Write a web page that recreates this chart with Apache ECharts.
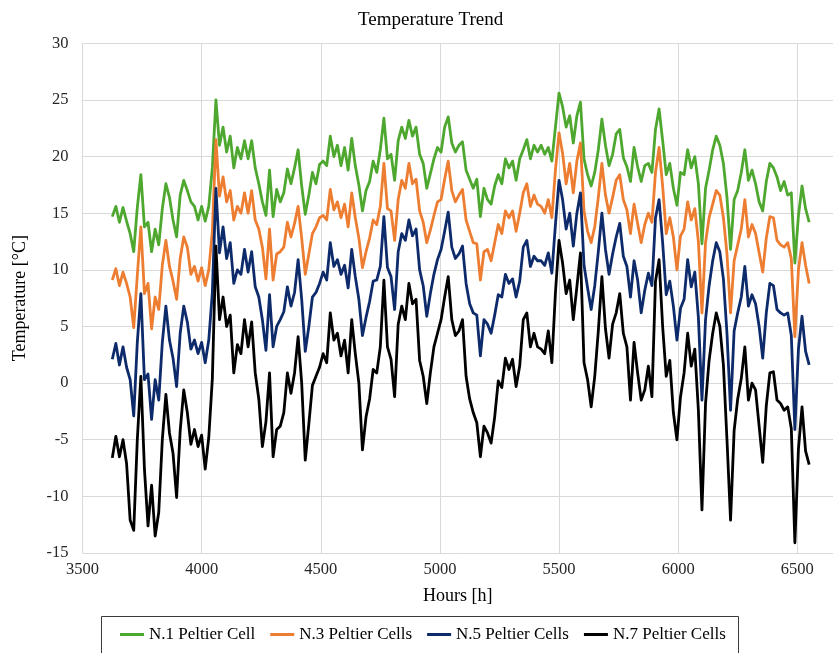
<!DOCTYPE html>
<html><head><meta charset="utf-8">
<script src="https://cdn.jsdelivr.net/npm/echarts@6/dist/echarts.min.js"></script>
<style>html,body{margin:0;padding:0;background:#fff}#c{width:833px;height:653px}</style>
</head><body><div id="c"></div>
<script>
const HOURS = [
3625,3640,3655,3670,3685,3700,3715,3730,3745,3760,
3775,3790,3805,3820,3835,3850,3865,3880,3895,3910,
3925,3940,3955,3970,3985,4000,4015,4030,4045,4060,
4075,4090,4105,4120,4135,4150,4165,4180,4195,4210,
4225,4240,4255,4270,4285,4300,4315,4330,4345,4360,
4375,4390,4405,4420,4435,4450,4465,4480,4495,4510,
4525,4540,4555,4570,4585,4600,4615,4630,4645,4660,
4675,4690,4705,4720,4735,4750,4765,4780,4795,4810,
4825,4840,4855,4870,4885,4900,4915,4930,4945,4960,
4975,4990,5005,5020,5035,5050,5065,5080,5095,5110,
5125,5140,5155,5170,5185,5200,5215,5230,5245,5260,
5275,5290,5305,5320,5335,5350,5365,5380,5395,5410,
5425,5440,5455,5470,5485,5500,5515,5530,5545,5560,
5575,5590,5605,5620,5635,5650,5665,5680,5695,5710,
5725,5740,5755,5770,5785,5800,5815,5830,5845,5860,
5875,5890,5905,5920,5935,5950,5965,5980,5995,6010,
6025,6040,6055,6070,6085,6100,6115,6130,6145,6160,
6175,6190,6205,6220,6235,6250,6265,6280,6295,6310,
6325,6340,6355,6370,6385,6400,6415,6430,6445,6460,
6475,6490,6505,6520,6535,6550];

const N1_CELL = [
14.7,15.6,14.2,15.5,14.3,13.2,11.6,15.5,18.4,13.8,
14.2,11.6,13.6,12.2,15.4,17.6,16.4,14.4,12.9,16.6,
17.9,17.0,16.0,15.6,14.4,15.6,14.3,15.6,19.0,25.0,
21.0,22.6,20.4,21.8,19.0,20.8,19.8,21.4,19.8,21.4,
19.0,17.6,16.0,14.8,18.8,14.7,17.1,16.0,16.8,18.9,
17.6,19.0,20.6,17.4,14.9,16.6,18.6,17.6,19.3,19.6,
19.2,21.8,20.0,21.0,19.2,20.8,18.8,21.6,19.2,17.5,
15.2,17.0,17.8,19.6,18.6,20.6,23.4,19.8,20.2,17.9,
21.4,22.6,21.6,23.2,21.8,22.6,20.2,19.4,17.2,18.5,
19.8,20.8,20.4,22.6,23.5,21.2,20.4,21.0,21.3,18.8,
18.0,17.2,18.0,14.7,17.2,16.2,15.8,17.4,18.4,17.6,
19.8,19.0,19.6,17.9,19.8,20.6,21.5,19.8,21.0,20.4,
21.0,20.2,20.8,19.6,22.6,25.6,24.4,22.6,23.6,21.2,
23.6,24.8,19.8,18.4,17.4,18.6,20.6,23.3,21.0,19.2,
20.2,22.0,22.4,19.9,19.1,17.8,20.8,19.1,17.8,19.2,
19.4,18.6,22.4,24.2,21.4,18.4,19.4,17.2,15.7,18.6,
18.4,20.6,19.0,20.0,17.6,12.3,17.2,18.8,20.6,21.8,
21.0,19.4,16.4,11.8,16.2,17.0,18.6,20.6,17.9,18.8,
17.6,16.0,15.2,17.8,19.4,19.0,18.2,17.0,17.8,16.6,
16.8,10.6,14.8,17.4,15.4,14.2];

const N3_CELLS = [
9.1,10.1,8.6,9.8,8.8,7.6,4.9,9.5,13.8,7.9,
8.8,4.8,7.6,6.5,10.4,12.6,10.3,9.0,7.4,11.0,
12.9,12.0,9.6,10.3,9.0,10.2,8.6,10.0,13.4,21.5,
16.5,18.2,16.0,17.0,14.4,15.6,15.0,16.8,15.0,17.0,
14.4,13.6,12.0,9.2,13.6,9.1,11.4,11.6,12.0,14.2,
12.9,14.1,15.6,12.8,9.6,11.4,13.2,13.8,14.6,14.8,
14.4,17.1,15.3,16.0,14.6,15.8,13.8,16.8,14.6,12.8,
10.2,11.6,12.8,14.4,14.0,15.6,19.4,15.4,15.2,12.6,
16.2,17.9,17.2,19.4,17.6,18.0,15.2,14.2,12.4,13.5,
14.8,16.0,16.2,18.0,19.6,17.0,16.0,16.6,17.1,14.4,
13.4,12.4,12.3,9.1,11.6,11.8,10.8,12.4,14.0,13.2,
15.2,14.6,15.2,13.4,15.0,16.8,17.6,15.6,16.6,15.8,
15.6,15.0,16.2,14.6,18.8,22.1,20.3,17.6,19.4,16.8,
19.6,21.2,15.2,13.4,12.4,13.8,16.4,19.4,16.6,15.0,
16.4,17.9,18.4,16.2,15.3,13.2,15.8,14.1,12.4,14.0,
15.0,14.2,18.6,20.8,17.4,13.2,14.6,12.9,10.0,13.0,
13.6,16.0,14.4,15.4,12.5,6.2,12.4,14.6,15.8,17.0,
16.6,14.6,11.4,6.2,10.8,12.2,13.6,16.2,12.9,14.0,
13.2,11.5,9.8,12.8,14.7,14.6,12.6,12.2,12.0,12.4,
11.0,4.1,10.0,12.4,10.4,8.8];

const N5_CELLS = [
2.1,3.5,1.6,3.2,1.4,0.3,-2.9,3.6,7.9,0.3,
0.8,-3.2,0.3,-1.5,3.6,6.8,3.8,2.2,-0.3,4.4,
6.8,5.4,3.0,3.8,2.6,3.6,1.8,3.8,8.0,17.2,
11.5,13.8,11.0,12.4,8.8,10.0,9.6,11.8,9.8,11.6,
8.5,7.6,5.6,2.9,7.8,3.2,5.0,5.6,6.3,8.5,
6.8,8.0,10.9,7.4,2.8,5.0,7.6,8.0,8.8,9.8,
9.1,12.4,10.3,10.9,9.6,10.4,8.4,11.8,9.4,7.4,
4.2,5.8,7.2,9.0,9.1,10.3,14.7,10.2,9.4,6.5,
11.6,13.2,12.6,14.4,13.0,13.6,10.0,8.6,5.9,7.9,
9.6,10.9,11.8,13.4,15.1,12.0,11.0,11.4,12.1,8.8,
7.0,6.2,6.0,2.4,5.6,5.2,4.4,6.0,7.8,7.6,
9.6,8.8,9.2,7.6,9.0,12.0,12.6,10.3,11.2,10.8,
10.8,10.4,11.5,9.7,14.0,17.9,16.2,13.6,15.0,12.1,
15.0,16.8,10.4,8.4,6.5,8.6,11.6,15.0,11.8,9.6,
11.4,12.9,14.1,11.2,10.3,7.6,10.8,9.1,6.2,8.2,
9.7,8.6,14.6,16.2,12.4,7.8,9.0,6.8,3.8,6.6,
7.4,10.9,8.5,9.8,5.8,-1.5,5.6,8.6,10.8,12.4,
11.6,9.2,4.4,-2.4,4.6,6.2,7.6,10.3,6.8,7.8,
7.0,5.0,2.2,6.2,8.8,8.6,6.5,6.2,6.0,6.2,
4.2,-4.1,3.0,5.9,2.8,1.6];

const N7_CELLS = [
-6.6,-4.7,-6.5,-5.0,-7.1,-12.1,-13.0,-5.0,0.6,-7.6,
-12.6,-9.0,-13.5,-11.4,-5.0,-1.0,-4.4,-6.2,-10.1,-4.2,
-0.6,-2.6,-5.4,-4.1,-5.6,-4.6,-7.6,-4.8,0.4,12.1,
5.6,7.6,5.0,6.0,0.9,3.4,2.6,5.6,3.2,5.4,
0.9,-1.4,-5.6,-3.4,0.9,-6.5,-4.1,-3.8,-2.6,0.9,
-0.9,0.9,4.1,0.0,-6.8,-3.6,-0.2,0.6,1.4,2.6,
1.8,6.2,3.8,4.4,2.4,3.8,0.9,5.6,2.6,0.0,
-5.9,-3.0,-1.4,1.2,0.9,3.2,9.1,3.2,2.1,-1.2,
5.2,6.8,5.6,8.8,7.0,7.4,2.0,0.6,-1.8,0.9,
3.2,4.4,5.6,7.6,9.4,5.6,4.2,4.6,5.6,0.6,
-1.4,-2.6,-3.5,-6.5,-3.8,-4.4,-5.3,-3.0,0.2,-0.4,
2.2,1.2,2.1,-0.3,1.5,5.6,6.2,3.2,4.4,3.2,
3.0,2.6,4.6,1.8,8.0,12.6,10.6,7.9,9.1,5.6,
8.5,11.5,1.8,0.3,-2.1,0.6,4.6,9.4,4.8,2.2,
5.2,6.2,7.9,4.4,3.2,-1.5,3.6,0.9,-1.5,-0.6,
1.5,-1.2,9.0,10.9,5.0,0.6,2.0,-2.6,-5.0,-1.2,
0.9,4.4,1.5,3.0,-2.4,-11.2,-1.8,2.0,4.4,6.2,
5.0,1.6,-5.0,-12.1,-4.2,-1.4,0.4,3.2,-1.5,0.0,
-0.6,-3.8,-7.0,-2.0,0.9,1.0,-1.5,-1.8,-2.4,-2.1,
-4.0,-14.1,-5.8,-2.1,-6.0,-7.2];

const SERIES_NAMES = ['N.1 Peltier Cell', 'N.3 Peltier Cells', 'N.5 Peltier Cells', 'N.7 Peltier Cells'];
const SERIES_VALUES = [N1_CELL, N3_CELLS, N5_CELLS, N7_CELLS];
const COLORS = ['#4EA72E', '#ED7D31', '#0D2A6B', '#000000'];
const X_TICKS = [3500, 4000, 4500, 5000, 5500, 6000, 6500];
const Y_TICKS = [-15, -10, -5, 0, 5, 10, 15, 20, 25, 30];

const FONT = "'Liberation Serif','Times New Roman',serif";
const GRID_COLOR = '#d9d9d9';

const chart = echarts.init(document.getElementById('c'), null, { renderer: 'canvas' });

const series = SERIES_NAMES.map((name, k) => ({
  name: name,
  type: 'line',
  data: HOURS.map((h, i) => [h, SERIES_VALUES[k][i]]),
  symbol: 'none',
  showSymbol: false,
  smooth: false,
  color: COLORS[k],
  lineStyle: { color: COLORS[k], width: 2.8, join: 'round' },
  z: 2 + k
}));

chart.setOption({
  animation: false,
  backgroundColor: '#ffffff',
  title: {
    text: 'Temperature Trend',
    left: 358, top: 11, padding: 0,
    textStyle: { fontFamily: FONT, fontSize: 19, fontWeight: 'normal', color: '#000' }
  },
  grid: { left: 82.5, right: 0, top: 43.3, bottom: 100, containLabel: false },
  xAxis: {
    type: 'value',
    min: X_TICKS[0], max: 6650, interval: X_TICKS[1] - X_TICKS[0],
    name: 'Hours [h]', nameLocation: 'middle', nameGap: 34,
    nameTextStyle: { fontFamily: FONT, fontSize: 18, color: '#000' },
    axisLine: { show: true, lineStyle: { color: GRID_COLOR, width: 1 } },
    axisTick: { show: false },
    axisLabel: {
      margin: 8, fontFamily: FONT, fontSize: 16.5, color: '#262626', showMaxLabel: false,
      formatter: v => String(v)
    },
    splitLine: { show: true, lineStyle: { color: GRID_COLOR, width: 1 } }
  },
  yAxis: {
    type: 'value',
    min: Y_TICKS[0], max: Y_TICKS[Y_TICKS.length - 1], interval: Y_TICKS[1] - Y_TICKS[0],
    name: 'Temperature [°C]', nameLocation: 'middle', nameGap: 53, nameRotate: 90,
    nameTextStyle: { fontFamily: FONT, fontSize: 18, color: '#000' },
    axisLine: { show: true, lineStyle: { color: GRID_COLOR, width: 1 } },
    axisTick: { show: false },
    axisLabel: { margin: 14, fontFamily: FONT, fontSize: 16.5, color: '#262626', formatter: v => String(v) },
    splitLine: { show: true, lineStyle: { color: GRID_COLOR, width: 1 } }
  },
  legend: {
    data: SERIES_NAMES.map(n => ({ name: n, icon: 'rect' })),
    left: 120, top: 626, padding: 0,
    itemWidth: 24, itemHeight: 3, itemGap: 15,
    textStyle: { fontFamily: FONT, fontSize: 17, color: '#000' }
  },
  graphic: [{
    type: 'rect', silent: true, z: 0,
    shape: { x: 101.5, y: 616.5, width: 637, height: 50 },
    style: { fill: 'none', stroke: '#3a3a3a', lineWidth: 1 }
  }],
  series: series
});
</script>
</body></html>
